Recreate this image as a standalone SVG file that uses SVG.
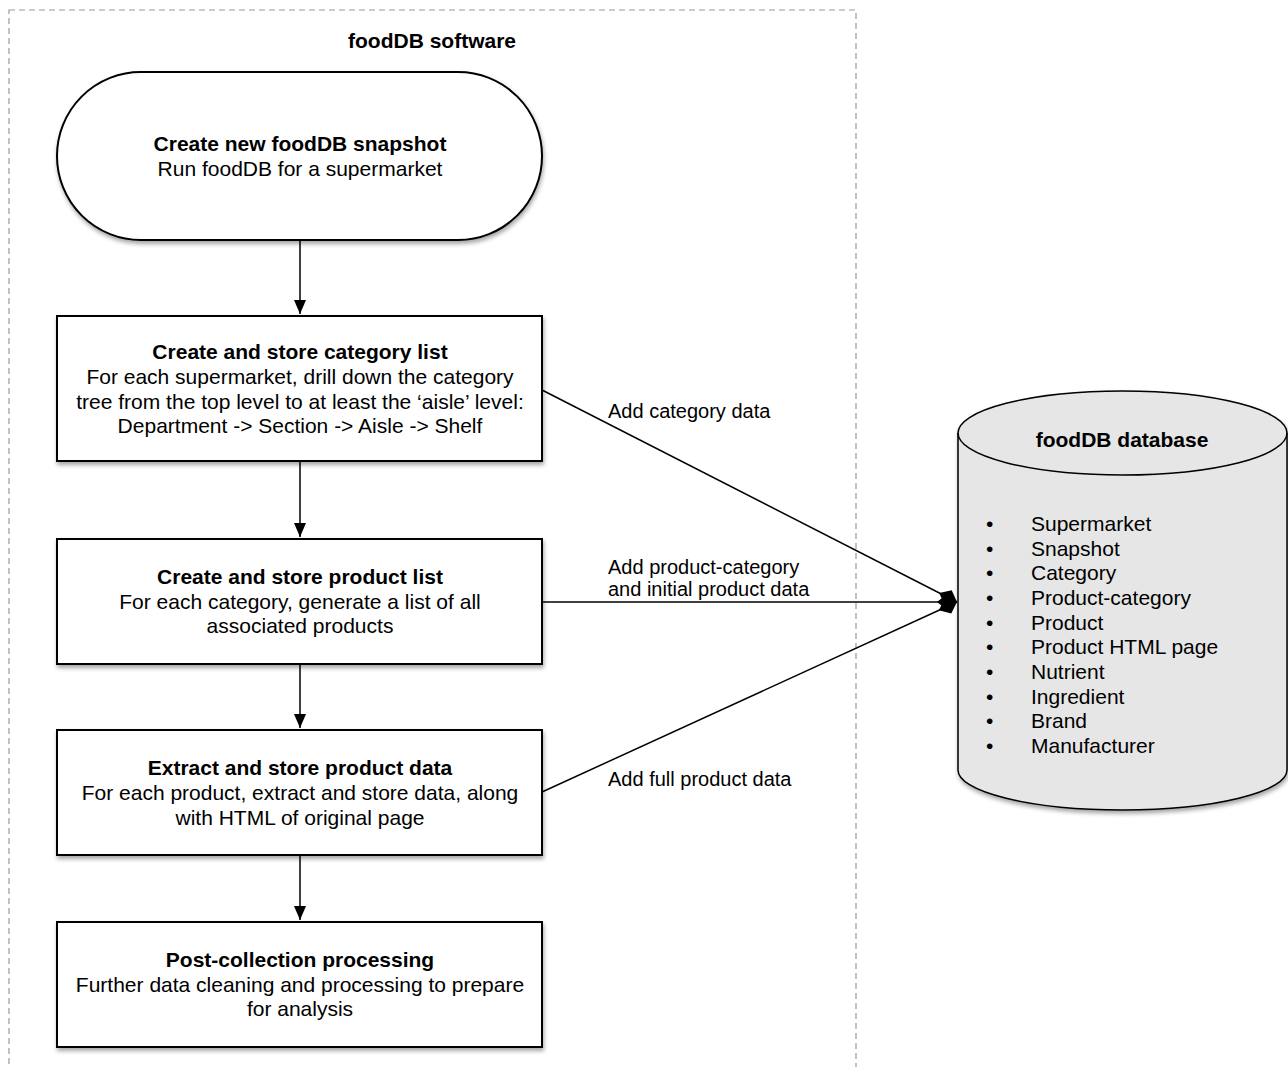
<svg xmlns="http://www.w3.org/2000/svg" width="1288" height="1067" viewBox="0 0 1288 1067">
<style>
text{font-family:"Liberation Sans",Arial,sans-serif;fill:#000}
.t{font-size:21px;font-weight:bold;text-anchor:middle}
.b{font-size:21px;text-anchor:middle}
.l{font-size:20px}
.li{font-size:21px}
.box{fill:#fff;stroke:#000;stroke-width:2}
.c{stroke:#000;stroke-width:1.5;fill:none}
</style>
<defs>
<filter id="sh" x="-10%" y="-10%" width="120%" height="130%">
<feDropShadow dx="1" dy="3" stdDeviation="2" flood-color="#000" flood-opacity="0.35"/>
</filter>
<marker id="ar" viewBox="0 0 14 12" refX="14" refY="6" markerWidth="14" markerHeight="12" markerUnits="userSpaceOnUse" orient="auto">
<path d="M0,0 L14,6 L0,12 Z" fill="#000"/>
</marker>
<marker id="dm" viewBox="0 0 22 18" refX="21" refY="9" markerWidth="22" markerHeight="18" markerUnits="userSpaceOnUse" orient="auto">
<path d="M1,9 L11,1 L21,9 L11,17 Z" fill="#000"/>
</marker>
</defs>
<rect x="9" y="10" width="847" height="1080" fill="none" stroke="#999" stroke-width="1.2" stroke-dasharray="6,4"/>
<text x="432" y="48" class="t">foodDB software</text>

<g id="connectors">
<line class="c" x1="300" y1="241" x2="300" y2="314" marker-end="url(#ar)"/>
<line class="c" x1="300" y1="462" x2="300" y2="537" marker-end="url(#ar)"/>
<line class="c" x1="300" y1="665" x2="300" y2="728" marker-end="url(#ar)"/>
<line class="c" x1="300" y1="856" x2="300" y2="920" marker-end="url(#ar)"/>
<line class="c" x1="542" y1="390" x2="957" y2="602" marker-end="url(#dm)"/>
<line class="c" x1="542" y1="602" x2="957" y2="602" marker-end="url(#dm)"/>
<line class="c" x1="542" y1="792" x2="957" y2="602" marker-end="url(#dm)"/>
<text x="608" y="418" class="l">Add category data</text>
<text x="608" y="574" class="l">Add product-category</text>
<text x="608" y="596" class="l">and initial product data</text>
<text x="608" y="786" class="l">Add full product data</text>
</g>

<g id="start">
<rect class="box" x="57" y="72" width="485" height="168" rx="84" ry="84" filter="url(#sh)"/>
<text x="300" y="151" class="t">Create new foodDB snapshot</text>
<text x="300" y="176" class="b">Run foodDB for a supermarket</text>
</g>

<g id="category">
<rect class="box" x="57" y="316" width="485" height="145" filter="url(#sh)"/>
<text x="300" y="359" class="t">Create and store category list</text>
<text x="300" y="384" class="b">For each supermarket, drill down the category</text>
<text x="300" y="409" class="b">tree from the top level to at least the ‘aisle’ level:</text>
<text x="300" y="433" class="b">Department -&gt; Section -&gt; Aisle -&gt; Shelf</text>
</g>

<g id="product">
<rect class="box" x="57" y="539" width="485" height="125" filter="url(#sh)"/>
<text x="300" y="584" class="t">Create and store product list</text>
<text x="300" y="609" class="b">For each category, generate a list of all</text>
<text x="300" y="633" class="b">associated products</text>
</g>

<g id="extract">
<rect class="box" x="57" y="730" width="485" height="125" filter="url(#sh)"/>
<text x="300" y="775" class="t">Extract and store product data</text>
<text x="300" y="800" class="b">For each product, extract and store data, along</text>
<text x="300" y="825" class="b">with HTML of original page</text>
</g>

<g id="post">
<rect class="box" x="57" y="922" width="485" height="125" filter="url(#sh)"/>
<text x="300" y="967" class="t">Post-collection processing</text>
<text x="300" y="992" class="b">Further data cleaning and processing to prepare</text>
<text x="300" y="1016" class="b">for analysis</text>
</g>

<g id="database">
<path d="M958,433 A164.5,42 0 0 1 1287,433 L1287,770 A164.5,40 0 0 1 958,770 Z" fill="#e6e6e6" stroke="#000" stroke-width="1.5" filter="url(#sh)"/>
<path d="M958,433 A164.5,42 0 0 0 1287,433" fill="none" stroke="#000" stroke-width="1.5"/>
<text x="1122" y="447" class="t">foodDB database</text>
<g class="li">
<text x="986" y="531">•</text><text x="1031" y="531">Supermarket</text>
<text x="986" y="556">•</text><text x="1031" y="556">Snapshot</text>
<text x="986" y="580">•</text><text x="1031" y="580">Category</text>
<text x="986" y="605">•</text><text x="1031" y="605">Product-category</text>
<text x="986" y="630">•</text><text x="1031" y="630">Product</text>
<text x="986" y="654">•</text><text x="1031" y="654">Product HTML page</text>
<text x="986" y="679">•</text><text x="1031" y="679">Nutrient</text>
<text x="986" y="704">•</text><text x="1031" y="704">Ingredient</text>
<text x="986" y="728">•</text><text x="1031" y="728">Brand</text>
<text x="986" y="753">•</text><text x="1031" y="753">Manufacturer</text>
</g>
</g>
</svg>
